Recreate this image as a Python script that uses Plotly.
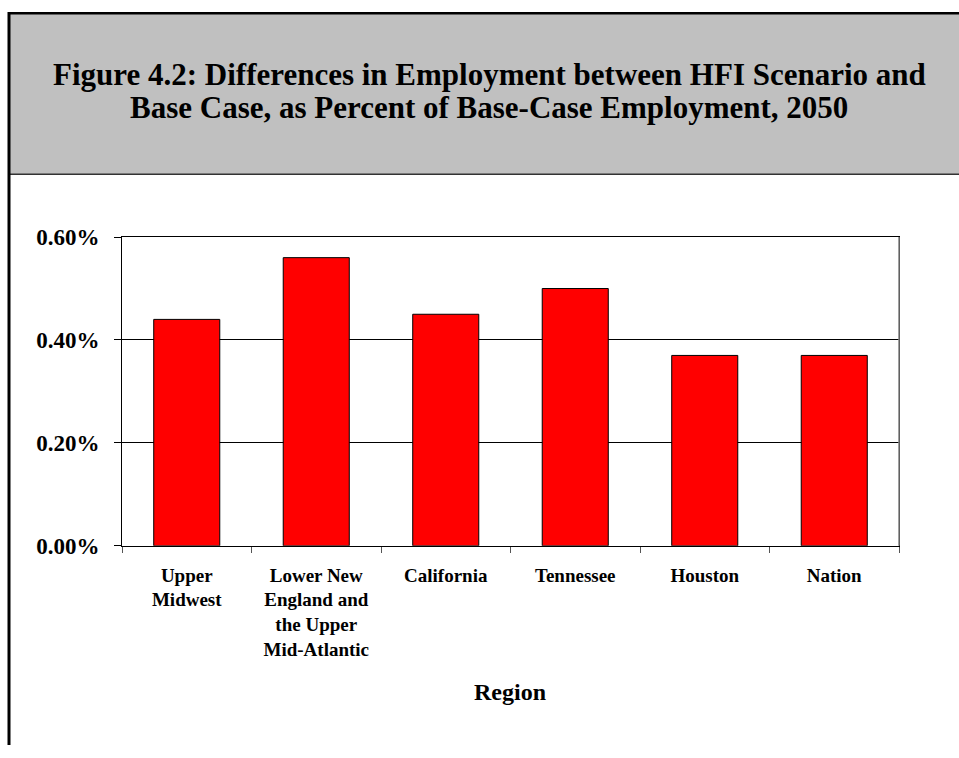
import plotly.graph_objects as go

# data
regions = ["Upper<br>Midwest", "Lower New<br>England and<br>the Upper<br>Mid-Atlantic",
           "California", "Tennessee", "Houston", "Nation"]
pct_diff = [0.0044, 0.0056, 0.0045, 0.0050, 0.0037, 0.0037]
y_ticks = [0, 0.002, 0.004, 0.006]
title_lines = ["Figure 4.2: Differences in Employment between HFI Scenario and",
               "Base Case, as Percent of Base-Case Employment, 2050"]

W, H = 959, 758
serif = "Liberation Serif"


def py(y):
    # target pixel row -> paper y (corrects the squash seen in the capture)
    return 1 - ((y - 11) / 0.971) / H


fig = go.Figure()
fig.add_trace(go.Bar(x=regions, y=pct_diff,
                     marker=dict(color="#ff0000", line=dict(color="black", width=1)),
                     width=0.51, hoverinfo="skip"))

# plot box in pixels
px_l, px_r, px_t, px_b = 122, 899, 237, 547

fig.update_layout(
    width=W, height=H,
    margin=dict(l=0, r=0, t=0, b=0),
    paper_bgcolor="white", plot_bgcolor="white",
    showlegend=False,
    font=dict(family=serif, color="black"),
)

fig.update_xaxes(
    domain=[px_l / W, px_r / W],
    type="category",
    tickson="boundaries", ticks="outside", ticklen=6, tickcolor="#555",
    showline=True, linecolor="black", linewidth=1, mirror=True,
    tickfont=dict(family=serif, size=19, weight="bold"),
    ticklabelstandoff=12,
    showgrid=False,
)
fig.update_yaxes(
    domain=[py(px_b), py(px_t)],
    range=[0, 0.006], tickvals=y_ticks, tickformat=".2%",
    ticks="outside", ticklen=7, tickcolor="black",
    showline=True, linecolor="black", linewidth=1, mirror=True,
    showgrid=True, gridcolor="black", gridwidth=1,
    tickfont=dict(family=serif, size=23, weight="bold"),
    ticklabelstandoff=10,
    zeroline=False,
)

# right edge of the plot box is grey in the original
fig.add_shape(type="line", xref="paper", yref="paper",
              x0=px_r / W, x1=px_r / W, y0=py(px_b), y1=py(px_t),
              line=dict(color="#808080", width=1.5))

# header box and outer frame
fig.add_shape(type="rect", xref="paper", yref="paper",
              x0=10 / W, x1=1.01, y0=py(174), y1=1,
              fillcolor="#c0c0c0", line=dict(width=0), layer="below")
fig.add_shape(type="line", xref="paper", yref="paper",
              x0=10 / W, x1=1, y0=py(174), y1=py(174),
              line=dict(color="#333", width=1.5))
fig.add_shape(type="line", xref="paper", yref="paper",
              x0=8 / W, x1=1, y0=1 - 1.2 / H, y1=1 - 1.2 / H,
              line=dict(color="black", width=2.5))
fig.add_shape(type="line", xref="paper", yref="paper",
              x0=9 / W, x1=9 / W, y0=0, y1=1,
              line=dict(color="black", width=3))

for line, yc in zip(title_lines, [74, 107]):
    fig.add_annotation(
        text=line, xref="paper", yref="paper", x=489 / W, y=py(yc),
        xanchor="center", yanchor="middle", showarrow=False,
        font=dict(family=serif, size=31, weight="bold", color="black"),
    )
fig.add_annotation(
    text="Region", xref="paper", yref="paper",
    x=(px_l + px_r) / 2 / W, y=py(694),
    xanchor="center", yanchor="middle", showarrow=False,
    font=dict(family=serif, size=24, weight="bold", color="black"),
)

fig.write_html("out.html", config={"displayModeBar": False},
               post_script="document.body.style.margin='0';")
